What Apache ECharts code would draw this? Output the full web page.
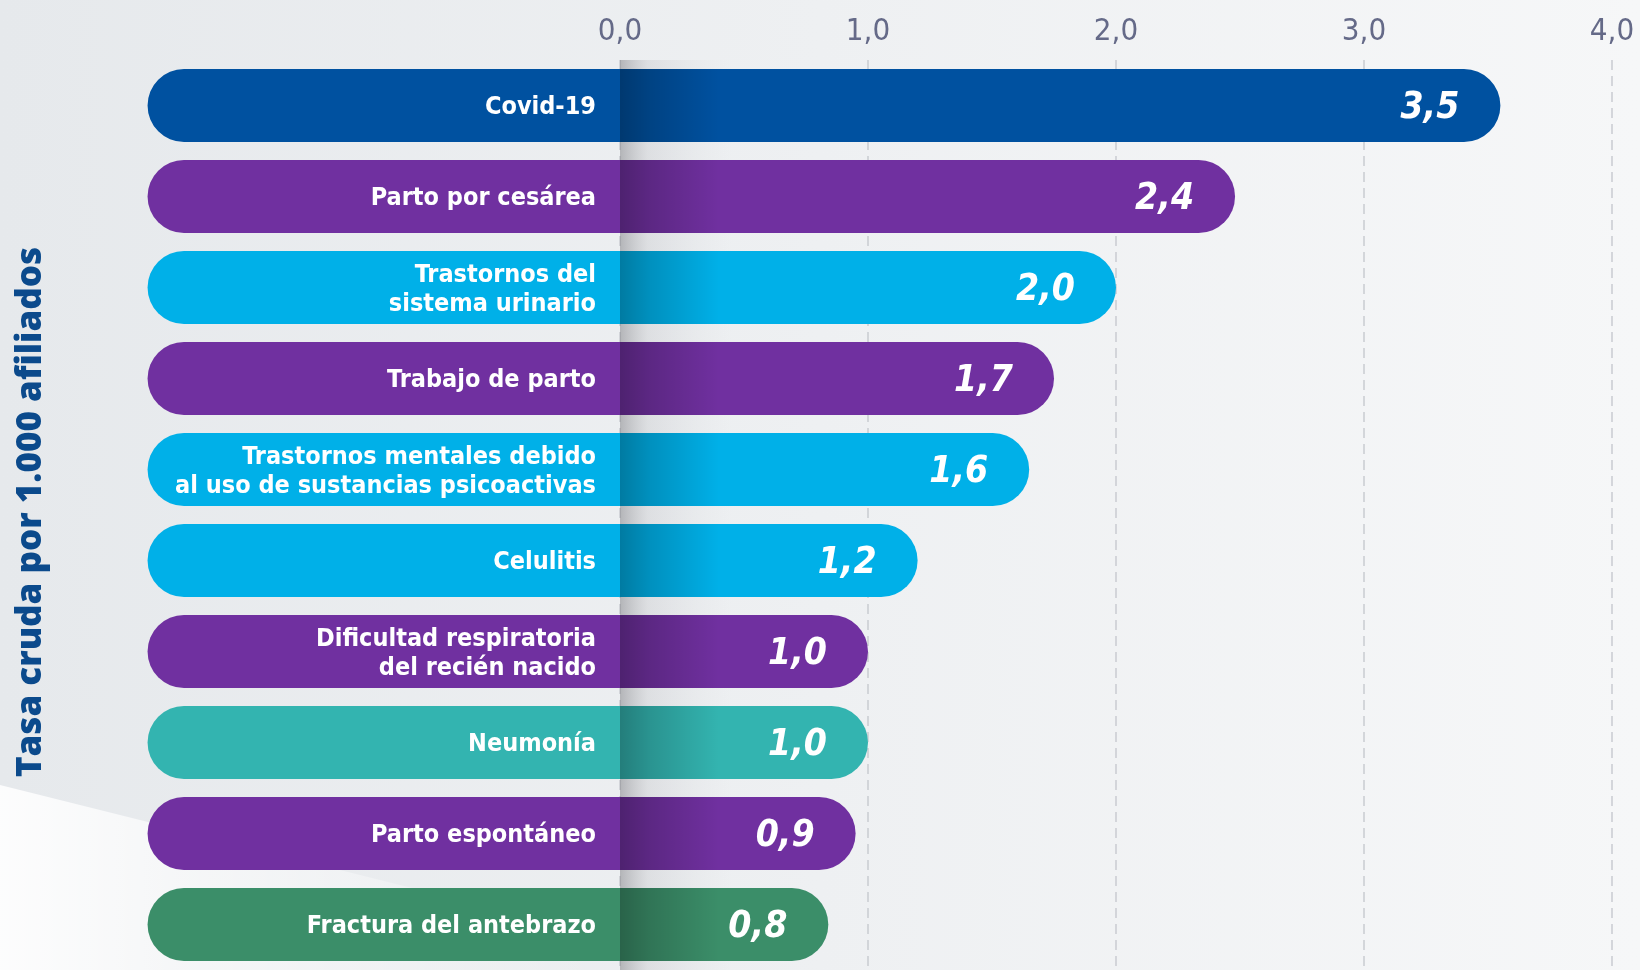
<!DOCTYPE html>
<html>
<head>
<meta charset="utf-8">
<script src="https://cdn.jsdelivr.net/npm/echarts@6/dist/echarts.min.js"></script>
<style>
  html, body { margin: 0; padding: 0; }
  #main { width: 1640px; height: 970px; }
</style>
</head>
<body>
<div id="main"></div>
<script>
// datos
var categorias = [
    'Covid-19',
    'Parto por cesárea',
    'Trastornos del\nsistema urinario',
    'Trabajo de parto',
    'Trastornos mentales debido\nal uso de sustancias psicoactivas',
    'Celulitis',
    'Dificultad respiratoria\ndel recién nacido',
    'Neumonía',
    'Parto espontáneo',
    'Fractura del antebrazo'
];
// largo de cada barra y la etiqueta impresa
var valores = [3.55, 2.48, 2.0, 1.75, 1.65, 1.2, 1.0, 1.0, 0.95, 0.84];
var etiquetas = ['3,5', '2,4', '2,0', '1,7', '1,6', '1,2', '1,0', '1,0', '0,9', '0,8'];
var colores = ['#0051a0', '#7030a0', '#00b0e8', '#7030a0', '#00b0e8',
               '#00b0e8', '#7030a0', '#33b4b0', '#7030a0', '#3b8e69'];

var EXT = -1.905;   // la pastilla sigue a la izquierda del 0 (zona de texto)
var fuente = '"Liberation Sans Narrow", "DejaVu Sans Condensed", sans-serif';

var myChart = echarts.init(document.getElementById('main'));

var option = {
    backgroundColor: {
        type: 'linear', x: 0, y: 0, x2: 1, y2: 0,
        colorStops: [
            { offset: 0, color: '#e6e9ec' },
            { offset: 1, color: '#f6f7f8' }
        ]
    },
    graphic: [
        {   // zona clara abajo a la izquierda
            type: 'polygon',
            z: -1,
            shape: { points: [[0, 785], [600, 935], [600, 970], [0, 970]] },
            style: {
                fill: {
                    type: 'linear', x: 0, y: 0, x2: 1, y2: 0,
                    colorStops: [
                        { offset: 0, color: 'rgba(255,255,255,0.9)' },
                        { offset: 0.3, color: 'rgba(255,255,255,0.6)' },
                        { offset: 1, color: 'rgba(255,255,255,0)' }
                    ]
                }
            }
        },
        {
            type: 'text',
            rotation: Math.PI / 2,
            x: 31, y: 512,
            style: {
                text: 'Tasa cruda por 1.000 afiliados',
                fill: '#0b4a8c',
                font: '800 35px "Open Sans", "Noto Sans", sans-serif',
                align: 'center',
                verticalAlign: 'middle'
            }
        }
    ],
    grid: { left: 620, right: 28, top: 60, bottom: 0 },
    xAxis: {
        type: 'value',
        position: 'top',
        min: 0,
        max: 4,
        interval: 1,
        axisLine: { show: false },
        axisTick: { show: false },
        axisLabel: {
            margin: 13,
            color: '#656a88',
            fontFamily: fuente,
            fontWeight: 500,
            fontSize: 31,
            formatter: function (v) { return v.toFixed(1).replace('.', ','); }
        },
        splitLine: {
            show: true,
            lineStyle: { color: '#c9ccd1', type: [10, 6], width: 1.5 }
        }
    },
    yAxis: {
        type: 'category',
        inverse: true,
        data: categorias,
        axisLine: { show: false },
        axisTick: { show: false },
        axisLabel: { show: false },
        splitLine: { show: false }
    },
    series: [
        {   // sombra vertical sobre el eje 0
            type: 'custom',
            z: 1,
            silent: true,
            renderItem: function () { return { type: 'group', children: [] }; },
            data: [],
            markArea: {
                silent: true,
                itemStyle: {
                    color: {
                        type: 'linear', x: 0, y: 0, x2: 1, y2: 0,
                        colorStops: [
                            { offset: 0, color: 'rgba(110,110,115,0.45)' },
                            { offset: 0.25, color: 'rgba(160,160,165,0.2)' },
                            { offset: 1, color: 'rgba(200,200,205,0)' }
                        ]
                    }
                },
                data: [[{ xAxis: 0 }, { xAxis: 0.45 }]]
            }
        },
        {
            type: 'custom',
            z: 3,
            clip: false,
            data: valores.map(function (v, i) { return [v, i]; }),
            renderItem: function (params, api) {
                var i = params.dataIndex;
                var v = api.value(0);
                var c = api.value(1);
                var ini = api.coord([EXT, c]);
                var fin = api.coord([v, c]);
                var cero = api.coord([0, c]);
                var sombra = api.coord([0.4, c]);
                var h = api.size([0, 1])[1] * 0.8;
                var y = fin[1] - h / 2;
                return {
                    type: 'group',
                    children: [
                        {
                            type: 'rect',
                            shape: { x: ini[0], y: y, width: fin[0] - ini[0], height: h, r: h / 2 },
                            style: { fill: colores[i] }
                        },
                        {
                            type: 'rect',
                            shape: { x: cero[0], y: y, width: sombra[0] - cero[0], height: h },
                            style: {
                                fill: {
                                    type: 'linear', x: 0, y: 0, x2: 1, y2: 0,
                                    colorStops: [
                                        { offset: 0, color: 'rgba(0,0,0,0.3)' },
                                        { offset: 0.3, color: 'rgba(0,0,0,0.18)' },
                                        { offset: 1, color: 'rgba(0,0,0,0)' }
                                    ]
                                }
                            }
                        },
                        {
                            type: 'text',
                            x: cero[0] - 24,
                            y: fin[1] + 2,
                            style: {
                                text: categorias[i],
                                fill: '#ffffff',
                                font: 'bold 25px ' + fuente,
                                lineHeight: 29,
                                align: 'right',
                                verticalAlign: 'middle'
                            }
                        },
                        {
                            type: 'text',
                            x: fin[0] - 41,
                            y: fin[1] + 3,
                            style: {
                                text: etiquetas[i],
                                fill: '#ffffff',
                                font: 'italic bold 37px ' + fuente,
                                align: 'right',
                                verticalAlign: 'middle'
                            }
                        }
                    ]
                };
            }
        }
    ]
};

myChart.setOption(option);
</script>
</body>
</html>
